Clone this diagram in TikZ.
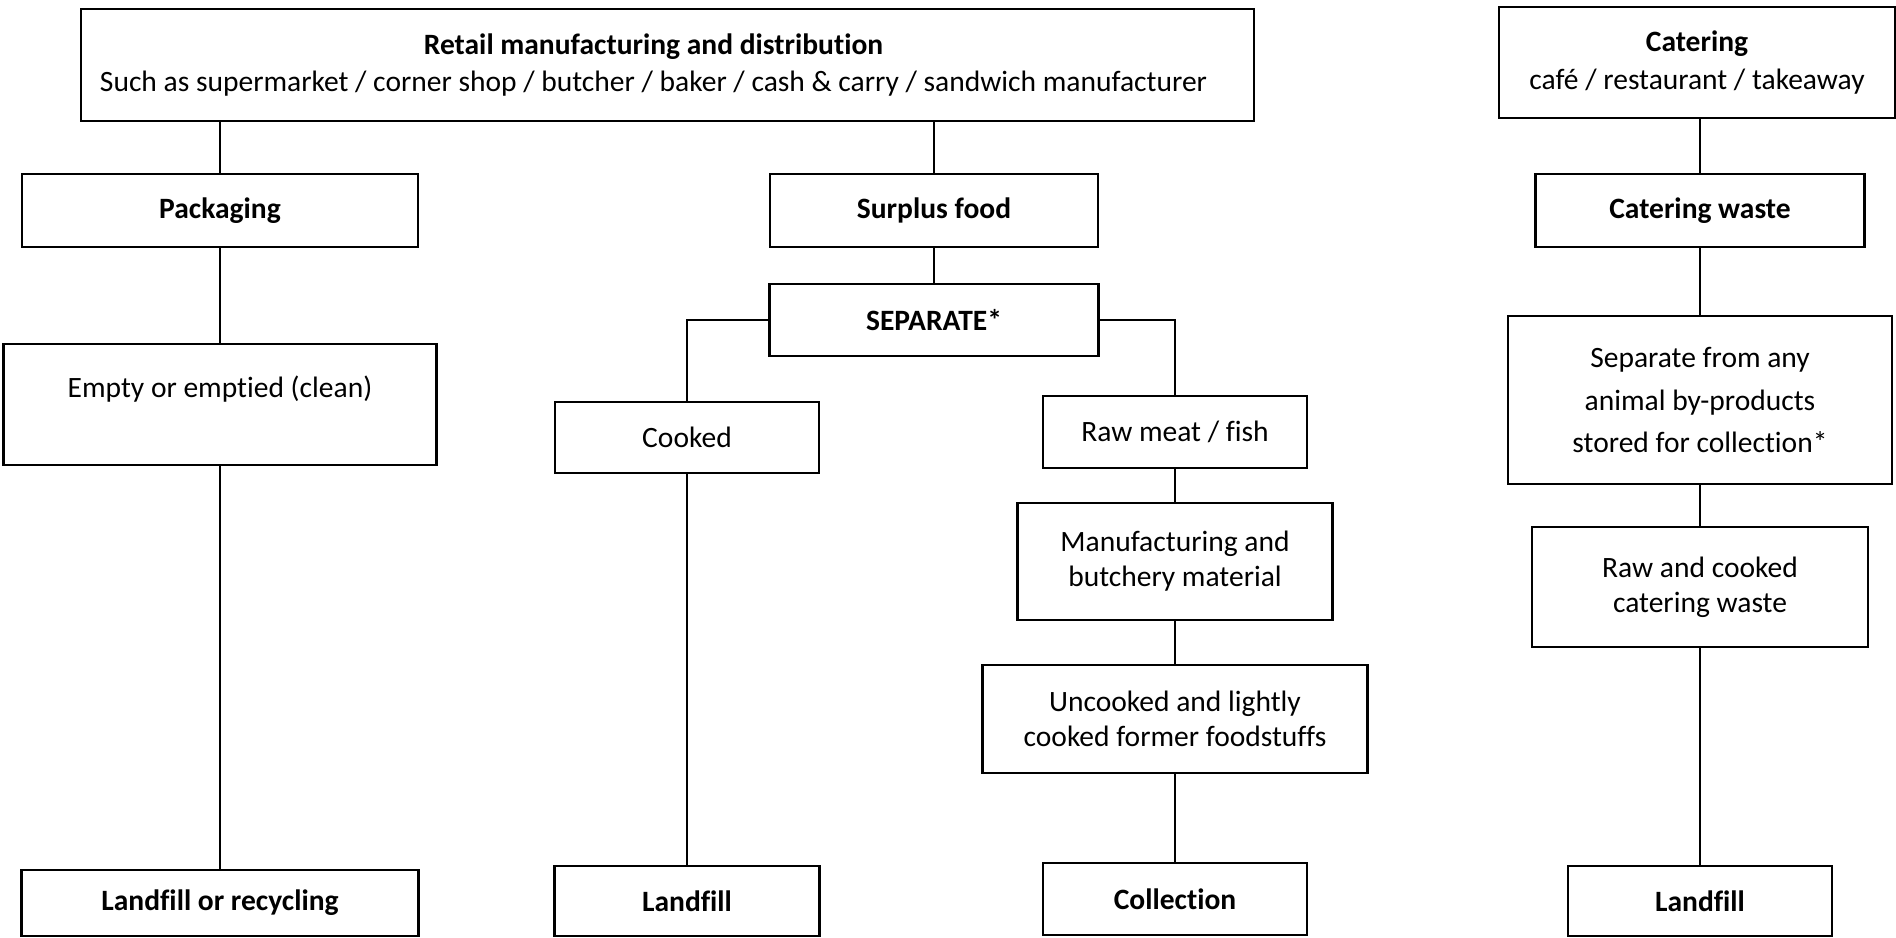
\documentclass[tikz,border=0pt]{standalone}
\usepackage{fontspec}
\setmainfont{Carlito}[Ligatures=NoCommon]

\begin{document}
\begin{tikzpicture}
\tikzstyle{every node}+=[inner sep=0pt, align=center, font=\fontsize{8.4}{10}\selectfont]
\tikzstyle{box}=[draw=black, line width=0.6pt]
\tikzstyle{link}=[draw=black, line width=0.5pt]
\useasboundingbox (0,0) rectangle (18.96,-9.37);
% top level
\node [box, minimum width=11.73cm, minimum height=1.12cm, font=\fontsize{8.4}{10.6}\selectfont] (retail) at (6.675,-0.65) {\textbf{Retail manufacturing and distribution}\hspace*{0.28cm}\\Such as supermarket / corner shop / butcher / baker / cash \& carry / sandwich manufacturer\hspace*{0.28cm}};
\node [box, minimum width=3.96cm, minimum height=1.11cm, font=\fontsize{8.4}{10.8}\selectfont] (catering) at (16.97,-0.625) {\textbf{Catering}\\café / restaurant / takeaway};
% second row
\node [box, minimum width=3.96cm, minimum height=0.73cm] (pack) at (2.2,-2.105) {\textbf{Packaging}};
\node [box, minimum width=3.28cm, minimum height=0.73cm] (surplus) at (9.34,-2.105) {\textbf{Surplus food}};
\node [box, minimum width=3.29cm, minimum height=0.73cm] (cwaste) at (17.0,-2.105) {\textbf{Catering waste}};
\node [box, minimum width=3.29cm, minimum height=0.72cm] (separate) at (9.34,-3.2) {\textbf{SEPARATE*}};
% middle
\node [box, minimum width=4.33cm, minimum height=1.21cm] (empty) at (2.2,-4.045) {Empty or emptied (clean)\\\mbox{}};
\node [box, minimum width=2.64cm, minimum height=0.71cm] (cooked) at (6.87,-4.375) {Cooked};
\node [box, minimum width=2.64cm, minimum height=0.72cm] (raw) at (11.75,-4.32) {Raw meat / fish};
\node [box, minimum width=3.84cm, minimum height=1.68cm, font=\fontsize{8.4}{12.2}\selectfont] (sepany) at (17.0,-4.0) {Separate from any\\animal by-products\\stored for collection*};
\node [box, minimum width=3.15cm, minimum height=1.17cm] (manuf) at (11.75,-5.615) {Manufacturing and\\butchery material};
\node [box, minimum width=3.36cm, minimum height=1.2cm] (rawcooked) at (17.0,-5.87) {Raw and cooked\\catering waste};
\node [box, minimum width=3.85cm, minimum height=1.08cm] (uncooked) at (11.75,-7.19) {Uncooked and lightly\\cooked former foodstuffs};
% bottom row
\node [box, minimum width=3.97cm, minimum height=0.66cm] (landrec) at (2.2,-9.03) {\textbf{Landfill or recycling}};
\node [box, minimum width=2.65cm, minimum height=0.70cm] (landfillA) at (6.87,-9.01) {\textbf{Landfill}};
\node [box, minimum width=2.64cm, minimum height=0.72cm] (collect) at (11.75,-8.99) {\textbf{Collection}};
\node [box, minimum width=2.64cm, minimum height=0.70cm] (landfillB) at (17.0,-9.01) {\textbf{Landfill}};
% connectors
\draw [link] (pack.north) -- (pack.north |- retail.south);
\draw [link] (surplus.north) -- (surplus.north |- retail.south);
\draw [link] (cwaste.north) -- (cwaste.north |- catering.south);
\draw [link] (surplus) -- (separate);
\draw [link] (separate.west) -| (cooked.north);
\draw [link] (separate.east) -| (raw.north);
\draw [link] (pack) -- (empty);
\draw [link] (empty) -- (landrec);
\draw [link] (cooked) -- (landfillA);
\draw [link] (raw) -- (manuf);
\draw [link] (manuf) -- (uncooked);
\draw [link] (uncooked) -- (collect);
\draw [link] (cwaste) -- (sepany);
\draw [link] (sepany) -- (rawcooked);
\draw [link] (rawcooked) -- (landfillB);
\end{tikzpicture}
\end{document}
